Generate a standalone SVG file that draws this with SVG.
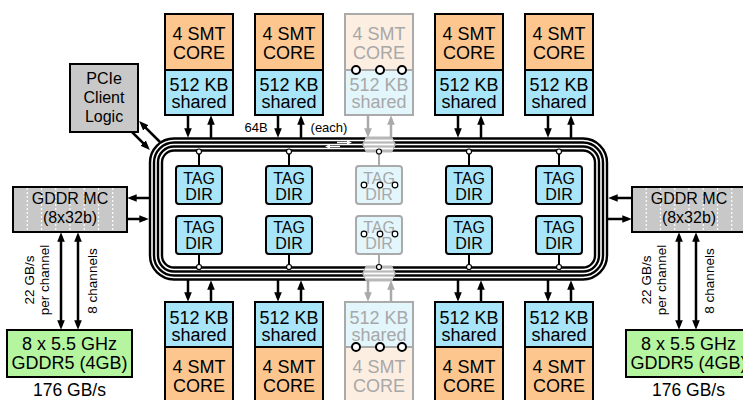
<svg xmlns="http://www.w3.org/2000/svg" width="743" height="400" viewBox="0 0 743 400">
<style>
text{font-family:"Liberation Sans",Arial,sans-serif;text-anchor:middle;fill:#000}
.big{font-size:18px}
.mid{font-size:16px}
.sm{font-size:13px}
.rot{font-size:13.5px}
.g{fill:#a8a8a8}
.core{fill:#fdc68f;stroke:#000;stroke-width:2}
.cache{fill:#a9e5f8;stroke:#000;stroke-width:2}
.gcore{fill:#fdeee2;stroke:#aaa;stroke-width:2}
.gcache{fill:#e2f6fc;stroke:#aaa;stroke-width:2}
.dot{stroke:#000;stroke-width:2;stroke-dasharray:1.5 1.5}
.gdot{stroke:#aaa;stroke-width:2;stroke-dasharray:1.5 1.5}
.tag{fill:#a9e5f8;stroke:#000;stroke-width:2}
.gtag{fill:#e2f6fc;stroke:#aaa;stroke-width:2}
.ring{fill:none;stroke:#000;stroke-width:2.4}
.arr{stroke:#000;stroke-width:2.5;fill:none;marker-end:url(#ah)}
.darr{stroke:#000;stroke-width:2.5;fill:none;marker-end:url(#ah);marker-start:url(#ah)}
.garr{stroke:#aaa;stroke-width:2.5;fill:none;marker-end:url(#ahg)}
.stub{stroke:#000;stroke-width:2}
.gstub{stroke:#aaa;stroke-width:2}
.node{fill:#fff;stroke:#000;stroke-width:1.2}
.circ{fill:#fff;stroke:#000;stroke-width:2}
.mc{fill:#c8c8c8;stroke:#000;stroke-width:2}
.mcl{stroke:#fff;stroke-width:1.2;stroke-dasharray:2 2}
.mem{fill:#b5f5a0;stroke:#000;stroke-width:2}
</style>
<defs>
<marker id="ah" viewBox="0 0 10 8" refX="6" refY="4" markerWidth="9.5" markerHeight="7.6" markerUnits="userSpaceOnUse" orient="auto-start-reverse"><path d="M0,0 L10,4 L0,8 z" fill="#000"/></marker>
<marker id="ahg" viewBox="0 0 10 8" refX="6" refY="4" markerWidth="9.5" markerHeight="7.6" markerUnits="userSpaceOnUse" orient="auto-start-reverse"><path d="M0,0 L10,4 L0,8 z" fill="#aaa"/></marker>
<marker id="ahw" viewBox="0 0 10 8" refX="6" refY="4" markerWidth="5" markerHeight="4" markerUnits="userSpaceOnUse" orient="auto"><path d="M0,0 L10,4 L0,8 z" fill="#fff"/></marker>
</defs>

<g id="ring-bus">
<rect class="ring" x="150" y="138.5" width="457" height="141" rx="24"/>
<rect class="ring" x="154" y="142.5" width="449" height="133" rx="20"/>
<rect class="ring" x="158" y="146.5" width="441" height="125" rx="16"/>
<rect class="ring" x="162" y="150.5" width="433" height="117" rx="12"/>
<polygon points="366,136.5 392,136.5 396,144.5 392,152.5 366,152.5 362,144.5" fill="#b8b8b8"/>
<polygon points="366,265.5 392,265.5 396,273.5 392,281.5 366,281.5 362,273.5" fill="#b8b8b8"/>
<g stroke="#fff" stroke-width="1.8">
<line x1="365" y1="140.5" x2="393" y2="140.5"/><line x1="364" y1="144.5" x2="394" y2="144.5"/><line x1="365" y1="148.5" x2="393" y2="148.5"/>
<line x1="365" y1="269.5" x2="393" y2="269.5"/><line x1="364" y1="273.5" x2="394" y2="273.5"/><line x1="365" y1="277.5" x2="393" y2="277.5"/>
</g>
<g stroke="#fff" stroke-width="1.5">
<line x1="337" y1="142.5" x2="350" y2="142.5" marker-end="url(#ahw)"/>
<line x1="340" y1="146.5" x2="327" y2="146.5" marker-end="url(#ahw)"/>
</g>
</g>

<g id="core-top-1">
<rect class="core" x="165" y="14" width="68" height="56"/><rect class="cache" x="165" y="70" width="68" height="45"/>
<line class="dot" x1="166" y1="70" x2="232" y2="70"/>
<text class="big" x="199" y="40">4 SMT</text><text class="big" x="199" y="59">CORE</text>
<text class="big" x="199" y="91">512 KB</text><text class="big" x="199" y="108">shared</text>
</g>
<g id="core-top-2">
<rect class="core" x="255" y="14" width="68" height="56"/><rect class="cache" x="255" y="70" width="68" height="45"/>
<line class="dot" x1="256" y1="70" x2="322" y2="70"/>
<text class="big" x="289" y="40">4 SMT</text><text class="big" x="289" y="59">CORE</text>
<text class="big" x="289" y="91">512 KB</text><text class="big" x="289" y="108">shared</text>
</g>
<g id="core-top-3">
<rect class="gcore" x="345" y="14" width="68" height="56"/><rect class="gcache" x="345" y="70" width="68" height="45"/>
<line class="gdot" x1="346" y1="70" x2="412" y2="70"/>
<text class="big g" x="379" y="40">4 SMT</text><text class="big g" x="379" y="59">CORE</text>
<text class="big g" x="379" y="91">512 KB</text><text class="big g" x="379" y="108">shared</text>
<circle class="circ" cx="356" cy="70" r="4"/><circle class="circ" cx="380" cy="70" r="4"/><circle class="circ" cx="402" cy="70" r="4"/>
</g>
<g id="core-top-4">
<rect class="core" x="435" y="14" width="68" height="56"/><rect class="cache" x="435" y="70" width="68" height="45"/>
<line class="dot" x1="436" y1="70" x2="502" y2="70"/>
<text class="big" x="469" y="40">4 SMT</text><text class="big" x="469" y="59">CORE</text>
<text class="big" x="469" y="91">512 KB</text><text class="big" x="469" y="108">shared</text>
</g>
<g id="core-top-5">
<rect class="core" x="525" y="14" width="68" height="56"/><rect class="cache" x="525" y="70" width="68" height="45"/>
<line class="dot" x1="526" y1="70" x2="592" y2="70"/>
<text class="big" x="559" y="40">4 SMT</text><text class="big" x="559" y="59">CORE</text>
<text class="big" x="559" y="91">512 KB</text><text class="big" x="559" y="108">shared</text>
</g>

<g id="core-bot-1">
<rect class="cache" x="165" y="302" width="68" height="45"/><rect class="core" x="165" y="347" width="68" height="58"/>
<line class="dot" x1="166" y1="347" x2="232" y2="347"/>
<text class="big" x="199" y="324">512 KB</text><text class="big" x="199" y="341">shared</text>
<text class="big" x="199" y="373">4 SMT</text><text class="big" x="199" y="392">CORE</text>
</g>
<g id="core-bot-2">
<rect class="cache" x="255" y="302" width="68" height="45"/><rect class="core" x="255" y="347" width="68" height="58"/>
<line class="dot" x1="256" y1="347" x2="322" y2="347"/>
<text class="big" x="289" y="324">512 KB</text><text class="big" x="289" y="341">shared</text>
<text class="big" x="289" y="373">4 SMT</text><text class="big" x="289" y="392">CORE</text>
</g>
<g id="core-bot-3">
<rect class="gcache" x="345" y="302" width="68" height="45"/><rect class="gcore" x="345" y="347" width="68" height="58"/>
<line class="gdot" x1="346" y1="347" x2="412" y2="347"/>
<text class="big g" x="379" y="324">512 KB</text><text class="big g" x="379" y="341">shared</text>
<text class="big g" x="379" y="373">4 SMT</text><text class="big g" x="379" y="392">CORE</text>
<circle class="circ" cx="356" cy="347" r="4"/><circle class="circ" cx="380" cy="347" r="4"/><circle class="circ" cx="402" cy="347" r="4"/>
</g>
<g id="core-bot-4">
<rect class="cache" x="435" y="302" width="68" height="45"/><rect class="core" x="435" y="347" width="68" height="58"/>
<line class="dot" x1="436" y1="347" x2="502" y2="347"/>
<text class="big" x="469" y="324">512 KB</text><text class="big" x="469" y="341">shared</text>
<text class="big" x="469" y="373">4 SMT</text><text class="big" x="469" y="392">CORE</text>
</g>
<g id="core-bot-5">
<rect class="cache" x="525" y="302" width="68" height="45"/><rect class="core" x="525" y="347" width="68" height="58"/>
<line class="dot" x1="526" y1="347" x2="592" y2="347"/>
<text class="big" x="559" y="324">512 KB</text><text class="big" x="559" y="341">shared</text>
<text class="big" x="559" y="373">4 SMT</text><text class="big" x="559" y="392">CORE</text>
</g>

<g id="tagdirs">
<g id="tag-1a"><rect class="tag" x="176" y="166" width="46" height="38" rx="3"/><text class="mid" x="199" y="184">TAG</text><text class="mid" x="199" y="200">DIR</text></g>
<g id="tag-1b"><rect class="tag" x="176" y="216" width="46" height="38" rx="3"/><text class="mid" x="199" y="233">TAG</text><text class="mid" x="199" y="249">DIR</text></g>
<g id="tag-2a"><rect class="tag" x="266" y="166" width="46" height="38" rx="3"/><text class="mid" x="289" y="184">TAG</text><text class="mid" x="289" y="200">DIR</text></g>
<g id="tag-2b"><rect class="tag" x="266" y="216" width="46" height="38" rx="3"/><text class="mid" x="289" y="233">TAG</text><text class="mid" x="289" y="249">DIR</text></g>
<g id="tag-3a"><rect class="gtag" x="356" y="166" width="46" height="38" rx="3"/><text class="mid g" x="379" y="184">TAG</text><text class="mid g" x="379" y="200">DIR</text>
<circle class="node" cx="364" cy="185" r="2.8"/><circle class="node" cx="380" cy="185" r="2.8"/><circle class="node" cx="395" cy="185" r="2.8"/></g>
<g id="tag-3b"><rect class="gtag" x="356" y="216" width="46" height="38" rx="3"/><text class="mid g" x="379" y="233">TAG</text><text class="mid g" x="379" y="249">DIR</text>
<circle class="node" cx="364" cy="234" r="2.8"/><circle class="node" cx="380" cy="234" r="2.8"/><circle class="node" cx="395" cy="234" r="2.8"/></g>
<g id="tag-4a"><rect class="tag" x="446" y="166" width="46" height="38" rx="3"/><text class="mid" x="469" y="184">TAG</text><text class="mid" x="469" y="200">DIR</text></g>
<g id="tag-4b"><rect class="tag" x="446" y="216" width="46" height="38" rx="3"/><text class="mid" x="469" y="233">TAG</text><text class="mid" x="469" y="249">DIR</text></g>
<g id="tag-5a"><rect class="tag" x="536" y="166" width="46" height="38" rx="3"/><text class="mid" x="559" y="184">TAG</text><text class="mid" x="559" y="200">DIR</text></g>
<g id="tag-5b"><rect class="tag" x="536" y="216" width="46" height="38" rx="3"/><text class="mid" x="559" y="233">TAG</text><text class="mid" x="559" y="249">DIR</text></g>
</g>

<g id="pcie">
<rect class="mc" x="70" y="64" width="68" height="68"/>
<text class="mid" x="104" y="84">PCIe</text><text class="mid" x="104" y="103">Client</text><text class="mid" x="104" y="122">Logic</text>
</g>

<g id="mc-left">
<rect class="mc" x="13" y="187" width="114" height="45"/>
<g class="mcl"><line x1="27.25" y1="188" x2="27.25" y2="231"/><line x1="41.5" y1="188" x2="41.5" y2="231"/><line x1="55.75" y1="188" x2="55.75" y2="231"/><line x1="70" y1="188" x2="70" y2="231"/><line x1="84.25" y1="188" x2="84.25" y2="231"/><line x1="98.5" y1="188" x2="98.5" y2="231"/><line x1="112.75" y1="188" x2="112.75" y2="231"/></g>
<text class="mid" x="70" y="204">GDDR MC</text><text class="mid" x="70" y="223">(8x32b)</text>
</g>
<g id="mc-right">
<rect class="mc" x="632" y="187" width="114" height="45"/>
<g class="mcl"><line x1="646.25" y1="188" x2="646.25" y2="231"/><line x1="660.5" y1="188" x2="660.5" y2="231"/><line x1="674.75" y1="188" x2="674.75" y2="231"/><line x1="689" y1="188" x2="689" y2="231"/><line x1="703.25" y1="188" x2="703.25" y2="231"/><line x1="717.5" y1="188" x2="717.5" y2="231"/><line x1="731.75" y1="188" x2="731.75" y2="231"/></g>
<text class="mid" x="689" y="204">GDDR MC</text><text class="mid" x="689" y="223">(8x32b)</text>
</g>

<g id="mem-left">
<rect class="mem" x="7" y="330" width="125" height="47"/>
<text class="big" x="69.5" y="349.5">8 x 5.5 GHz</text><text class="big" x="69.5" y="368.5">GDDR5 (4GB)</text>
<text x="69.5" y="396" style="font-size:17.5px">176 GB/s</text>
</g>
<g id="mem-right">
<rect class="mem" x="626" y="330" width="125" height="47"/>
<text class="big" x="688.5" y="349.5">8 x 5.5 GHz</text><text class="big" x="688.5" y="368.5">GDDR5 (4GB)</text>
<text x="688.5" y="396" style="font-size:17.5px">176 GB/s</text>
</g>

<g id="connectors">
<line class="arr" x1="188" y1="115" x2="188" y2="134"/><line class="arr" x1="211" y1="138" x2="211" y2="119"/>
<line class="arr" x1="278" y1="115" x2="278" y2="134"/><line class="arr" x1="301" y1="138" x2="301" y2="119"/>
<line class="garr" x1="368" y1="115" x2="368" y2="134"/><line class="garr" x1="391" y1="138" x2="391" y2="119"/>
<line class="arr" x1="458" y1="115" x2="458" y2="134"/><line class="arr" x1="481" y1="138" x2="481" y2="119"/>
<line class="arr" x1="548" y1="115" x2="548" y2="134"/><line class="arr" x1="571" y1="138" x2="571" y2="119"/>
<line class="arr" x1="188" y1="280" x2="188" y2="298"/><line class="arr" x1="211" y1="302" x2="211" y2="284"/>
<line class="arr" x1="278" y1="280" x2="278" y2="298"/><line class="arr" x1="301" y1="302" x2="301" y2="284"/>
<line class="garr" x1="368" y1="280" x2="368" y2="298"/><line class="garr" x1="391" y1="302" x2="391" y2="284"/>
<line class="arr" x1="458" y1="280" x2="458" y2="298"/><line class="arr" x1="481" y1="302" x2="481" y2="284"/>
<line class="arr" x1="548" y1="280" x2="548" y2="298"/><line class="arr" x1="571" y1="302" x2="571" y2="284"/>
<line class="stub" x1="199" y1="152" x2="199" y2="166"/><line class="stub" x1="199" y1="254" x2="199" y2="267"/>
<line class="stub" x1="289" y1="152" x2="289" y2="166"/><line class="stub" x1="289" y1="254" x2="289" y2="267"/>
<line class="gstub" x1="379" y1="152" x2="379" y2="166"/><line class="gstub" x1="379" y1="254" x2="379" y2="267"/>
<line class="stub" x1="469" y1="152" x2="469" y2="166"/><line class="stub" x1="469" y1="254" x2="469" y2="267"/>
<line class="stub" x1="559" y1="152" x2="559" y2="166"/><line class="stub" x1="559" y1="254" x2="559" y2="267"/>
<circle class="node" cx="199" cy="151.5" r="2.5"/><circle class="node" cx="199" cy="267" r="2.5"/>
<circle class="node" cx="289" cy="151.5" r="2.5"/><circle class="node" cx="289" cy="267" r="2.5"/>
<circle class="node" cx="379" cy="151.5" r="2.5"/><circle class="node" cx="379" cy="267" r="2.5"/>
<circle class="node" cx="469" cy="151.5" r="2.5"/><circle class="node" cx="469" cy="267" r="2.5"/>
<circle class="node" cx="559" cy="151.5" r="2.5"/><circle class="node" cx="559" cy="267" r="2.5"/>
<line class="arr" x1="160" y1="142" x2="141.8" y2="123.8"/>
<line class="arr" x1="132" y1="132" x2="147.2" y2="147.2"/>
<line class="arr" x1="149" y1="198" x2="131" y2="198"/><line class="arr" x1="127" y1="219" x2="145" y2="219"/>
<line class="arr" x1="632" y1="198" x2="612" y2="198"/><line class="arr" x1="608" y1="219" x2="628" y2="219"/>
<line class="darr" x1="61" y1="236" x2="61" y2="326"/><line class="darr" x1="78" y1="236" x2="78" y2="326"/>
<line class="darr" x1="679" y1="236" x2="679" y2="326"/><line class="darr" x1="696" y1="236" x2="696" y2="326"/>
</g>

<g id="labels">
<text class="sm" x="256" y="132">64B</text>
<text class="sm" x="329" y="132">(each)</text>
<text class="rot" transform="translate(34,280) rotate(-90)">22 GB/s</text>
<text class="rot" transform="translate(49,280) rotate(-90)">per channel</text>
<text class="rot" transform="translate(97,281) rotate(-90)">8 channels</text>
<text class="rot" transform="translate(651,280) rotate(-90)">22 GB/s</text>
<text class="rot" transform="translate(666,280) rotate(-90)">per channel</text>
<text class="rot" transform="translate(714,281) rotate(-90)">8 channels</text>
</g>
</svg>
